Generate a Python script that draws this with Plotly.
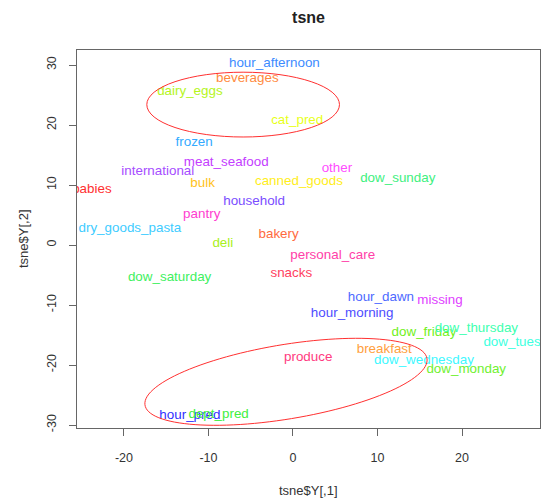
import numpy as np
import plotly.graph_objects as go

labels = ["hour_afternoon", "beverages", "dairy_eggs", "cat_pred", "frozen",
          "meat_seafood", "international", "other", "bulk", "canned_goods",
          "babies", "dow_sunday", "household", "pantry", "dry_goods_pasta",
          "bakery", "deli", "personal_care", "snacks", "dow_saturday",
          "hour_dawn", "missing", "hour_morning", "dow_friday", "dow_thursday",
          "dow_tuesday", "breakfast", "produce", "dow_wednesday", "dow_monday",
          "hour_pred", "dept_pred"]
x_vals = [-2.2, -5.4, -12.2, 0.5, -11.7,
          -7.9, -16.0, 5.2, -10.7, 0.7,
          -23.8, 12.4, -4.6, -10.8, -19.3,
          -1.7, -8.3, 4.7, -0.2, -14.6,
          10.4, 17.4, 7.0, 15.5, 21.7,
          27.2, 10.8, 1.8, 15.5, 20.5,
          -12.2, -8.8]
y_vals = [30.3, 27.7, 25.5, 20.8, 17.0,
          13.7, 12.3, 12.8, 10.2, 10.5,
          9.2, 11.0, 7.3, 5.0, 2.8,
          1.8, 0.2, -1.8, -4.7, -5.5,
          -8.8, -9.2, -11.4, -14.6, -14.0,
          -16.2, -17.5, -18.8, -19.3, -20.8,
          -28.5, -28.3]
colors = ["#3d8bff", "#ff8a3d", "#b5f51c", "#e8ff1a", "#33aaff",
          "#c43dff", "#a64dff", "#ff4dff", "#ffc21a", "#ffee1a",
          "#ff3030", "#40f080", "#7a4dff", "#ff40d0", "#40ccff",
          "#ff6a40", "#a8f020", "#ff40a8", "#ff4060", "#40f060",
          "#4d6aff", "#e040ff", "#4d4dff", "#70f020", "#40ffb0",
          "#40ffe0", "#ffa040", "#ff3a80", "#40f8ff", "#70f030",
          "#3030ff", "#40f040"]

x_ticks = [-20, -10, 0, 10, 20]
x_tick_text = ["-20", "-10", "0", "10", "20"]
y_ticks = [-30, -20, -10, 0, 10, 20, 30]
y_tick_text = ["-30", "-20", "-10", "0", "10", "20", "30"]

FONT = "Liberation Sans, Arial, sans-serif"

fig = go.Figure()
fig.add_trace(go.Scatter(
    x=x_vals, y=y_vals, mode="text", text=labels,
    textposition="middle center", cliponaxis=True,
    textfont=dict(family=FONT, size=13.4, color=colors),
    hoverinfo="skip", showlegend=False))

# top ellipse
fig.add_shape(type="circle", xref="x", yref="y",
              x0=-17.3, x1=5.5, y0=18.0, y1=28.8,
              line=dict(color="#ff3030", width=1))

# bottom tilted ellipse (parametric annotation)
cx, cy, ax_, by_, phi = -0.83, -22.8, 16.7, 7.25, np.deg2rad(60)
t = np.linspace(0, 2 * np.pi, 120)
px = cx + ax_ * np.cos(t)
py = cy + by_ * np.cos(t - phi)
path = "M " + " L ".join(f"{a:.3f},{b:.3f}" for a, b in zip(px, py)) + " Z"
fig.add_shape(type="path", xref="x", yref="y", path=path,
              line=dict(color="#ff3030", width=1))

axis_common = dict(showgrid=False, zeroline=False, showline=True, mirror=True,
                   linecolor="#666666", linewidth=1, ticks="outside", ticklen=7,
                   tickcolor="#666666", tickwidth=1, automargin=False,
                   tickfont=dict(family=FONT, size=12.5, color="#333333"))

plot_h = 378
fig.update_layout(
    template="none",
    width=543, height=500,
    margin=dict(l=77, r=3, t=50, b=72, autoexpand=False),
    paper_bgcolor="white", plot_bgcolor="white",
    title=dict(text="<b>tsne</b>", x=0.5, xref="paper", y=1 - 17 / 500, yref="container",
               xanchor="center", yanchor="middle",
               font=dict(family=FONT, size=16, color="#222222")),
    xaxis=dict(range=[-25.56, 29.23], tickvals=x_ticks, ticktext=x_tick_text,
               ticklabelstandoff=11, **axis_common),
    yaxis=dict(range=[-30.5, 32.5], tickvals=y_ticks, ticktext=y_tick_text, tickangle=-90,
               ticklabelstandoff=8, **axis_common),
    annotations=[
        dict(text="tsne$Y[,1]", xref="paper", yref="paper", x=0.5, y=-62 / plot_h,
             showarrow=False, xanchor="center", yanchor="middle",
             font=dict(family=FONT, size=13, color="#333333")),
        dict(text="tsne$Y[,2]", xref="paper", yref="paper", x=(23 - 77) / 463, y=0.5,
             showarrow=False, xanchor="center", yanchor="middle", textangle=-90,
             font=dict(family=FONT, size=13, color="#333333")),
    ],
)

fig.write_html(
    "out.html",
    config={"displayModeBar": False, "staticPlot": True},
    post_script="document.body.style.margin='0px';"
                "document.documentElement.style.overflow='hidden';"
                "document.body.style.overflow='hidden';",
)
